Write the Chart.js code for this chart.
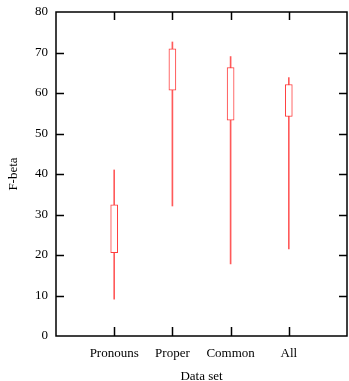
<!DOCTYPE html>
<html>
<head>
<meta charset="utf-8">
<script src="https://cdn.jsdelivr.net/npm/chart.js@4"></script>
<style>
html,body{margin:0;padding:0;background:#fff;}
#wrap{width:349px;height:381px;}
</style>
</head>
<body>
<div id="wrap"><canvas id="c" width="349" height="381"></canvas></div>
<script>
const categories = ["Pronouns", "Proper", "Common", "All"];
const positions = [1, 2, 3, 4];
const whiskerLow = [9.1, 32.1, 17.8, 21.5];
const boxLow = [20.6, 60.7, 53.3, 54.2];
const boxHigh = [32.4, 70.9, 66.3, 62.1];
const whiskerHigh = [41.0, 72.6, 69.0, 63.8];
const yTicks = [0, 10, 20, 30, 40, 50, 60, 70, 80];

const whiskerColor = 'rgb(255,90,90)';
const boxColor = 'rgb(255,60,60)';
const serif = "'Liberation Serif', 'DejaVu Serif', serif";

const whiskerData = positions.map((p, i) => ({x: p, y: [whiskerLow[i], whiskerHigh[i]]}));
const boxData = positions.map((p, i) => ({x: p, y: [boxLow[i], boxHigh[i]]}));

const frame = {
  id: 'frame',
  afterDatasetsDraw(chart) {
    const {ctx, chartArea: a, scales: {x, y}} = chart;
    ctx.save();
    ctx.strokeStyle = '#000';
    ctx.lineWidth = 1.5;
    ctx.strokeRect(a.left, a.top, a.right - a.left, a.bottom - a.top);
    ctx.beginPath();
    const tl = 8;
    yTicks.forEach(v => {
      if (v === 0 || v === 80) return;
      const py = Math.round(y.getPixelForValue(v)) + 0.5;
      ctx.moveTo(a.left, py); ctx.lineTo(a.left + tl, py);
      ctx.moveTo(a.right, py); ctx.lineTo(a.right - tl, py);
    });
    positions.forEach(p => {
      const px = Math.round(x.getPixelForValue(p)) + 0.5;
      ctx.moveTo(px, a.bottom); ctx.lineTo(px, a.bottom - tl - 1);
      ctx.moveTo(px, a.top); ctx.lineTo(px, a.top + tl);
    });
    ctx.stroke();
    ctx.restore();
  }
};

new Chart(document.getElementById('c'), {
  type: 'bar',
  data: {
    datasets: [
      {
        label: 'whisker',
        data: whiskerData,
        backgroundColor: whiskerColor,
        borderWidth: 0,
        barThickness: 1,
        grouped: false,
        order: 2
      },
      {
        label: 'box',
        data: boxData,
        backgroundColor: '#fff',
        borderColor: boxColor,
        borderWidth: 1,
        borderSkipped: false,
        barThickness: 7,
        grouped: false,
        order: 1
      }
    ]
  },
  options: {
    responsive: false,
    animation: false,
    layout: {padding: {top: 12, right: 1, left: 0, bottom: 0}},
    plugins: {legend: {display: false}, tooltip: {enabled: false}},
    scales: {
      x: {
        type: 'linear',
        offset: false,
        min: 0, max: 5,
        grid: {display: false},
        border: {display: false},
        ticks: {
          stepSize: 1,
          autoSkip: false,
          maxRotation: 0,
          padding: 2,
          color: '#000',
          font: {family: serif, size: 13},
          callback: (v) => (v >= 1 && v <= 4) ? categories[v - 1] : ''
        },
        title: {display: true, text: 'Data set', color: '#000', font: {family: serif, size: 13}, padding: {top: 0, bottom: -3}},
        afterFit(s) { s.height = 45; }
      },
      y: {
        min: 0, max: 80,
        grid: {display: false},
        border: {display: false},
        afterBuildTicks(s) { s.ticks = yTicks.map(v => ({value: v})); },
        ticks: {
          padding: 0,
          color: '#000',
          font: {family: serif, size: 13}
        },
        title: {display: true, text: 'F-beta', color: '#000', font: {family: serif, size: 13}, padding: {top: 6, bottom: 0}},
        afterFit(s) { s.width = 56; }
      }
    }
  },
  plugins: [frame]
});
</script>
</body>
</html>
